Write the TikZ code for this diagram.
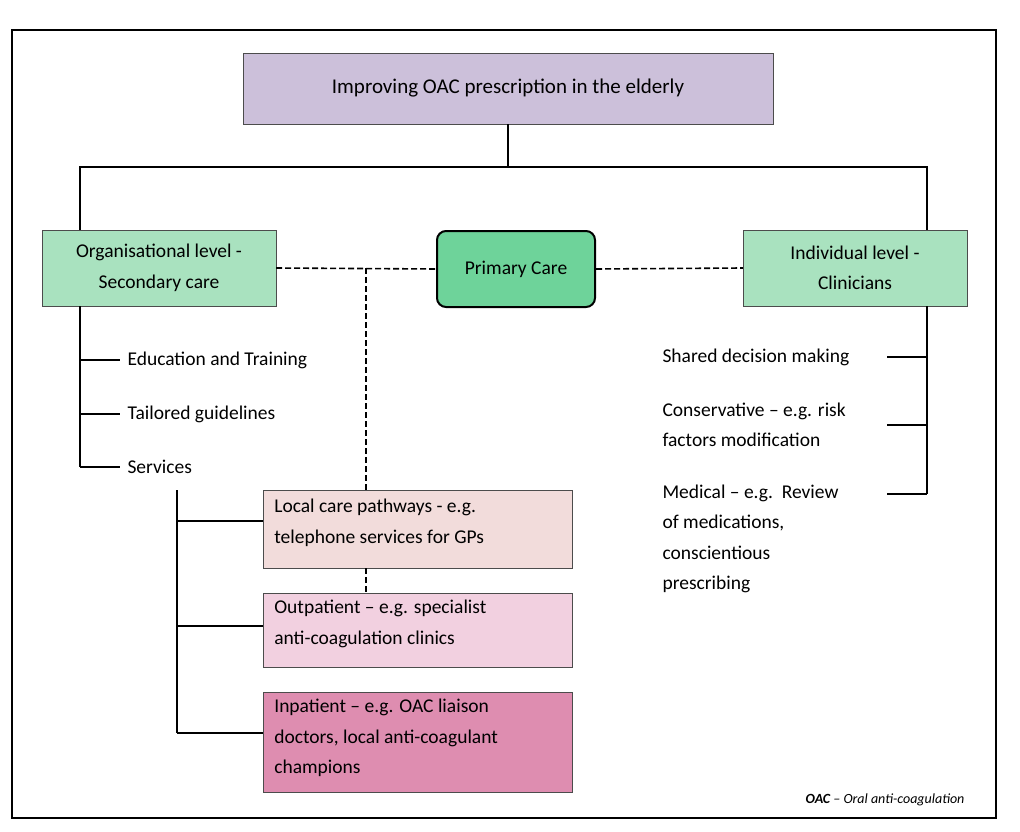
\documentclass[tikz,border=0pt]{standalone}
\usepackage{fontspec}
\setmainfont{Carlito}
\begin{document}
\begin{tikzpicture}[x=1pt,y=-1pt,
  box/.style={draw=black!70,thin,inner sep=0pt},
  ln/.style={line width=1.8pt},
  dl/.style={line width=1.6pt,dash pattern=on 6pt off 3pt},
  fs/.style={font=\fontsize{19.5}{30.5}\selectfont},
  lab/.style={fs,anchor=west,align=left},
  bt/.style={fs,align=left,anchor=north west}]
\useasboundingbox (0,0) rectangle (1020,832);
\draw[line width=1.8pt] (12,30) rectangle (996,818);
\node[box,fill={rgb,255:red,204;green,192;blue,218},minimum width=530,minimum height=71,font=\fontsize{21}{24}\selectfont] (t) at (508,88.5) {Improving OAC prescription in the elderly};
\node[box,fill={rgb,255:red,169;green,226;blue,191},minimum width=234,minimum height=76,align=center,fs] (l) at (159,268) {Organisational level -\\Secondary care};
\node[draw=black,line width=2pt,rounded corners=9pt,fill={rgb,255:red,110;green,211;blue,154},minimum width=158,minimum height=76,fs] (p) at (516,269) {Primary Care};
\node[box,fill={rgb,255:red,169;green,226;blue,191},minimum width=224,minimum height=76,align=center,fs] (r) at (855,268) {Individual level -\\Clinicians};
\coordinate (tb) at (508,167);
\coordinate (lt) at (80,230);
\coordinate (rt) at (927,230);
\draw[ln] (t.south) -- (tb);
\draw[ln] (lt) -- (80,167) -- (927,167) -- (rt);
\draw[dl] (l.east) -- (p.west);
\draw[dl] (p.east) -- (r.west);
\node[box,fill={rgb,255:red,242;green,220;blue,219},minimum width=309,minimum height=78] (b1) at (417.5,529) {};
\node[bt] at (b1.north west) [xshift=8pt,yshift=-6pt] {Local care pathways - e.g.\\telephone services for GPs};
\node[box,fill={rgb,255:red,242;green,208;blue,224},minimum width=309,minimum height=74] (b2) at (417.5,630) {};
\node[bt] at (b2.north west) [xshift=8pt,yshift=-4pt] {Outpatient -- e.g. specialist\\anti-coagulation clinics};
\node[box,fill={rgb,255:red,222;green,141;blue,176},minimum width=309,minimum height=100] (b3) at (417.5,742) {};
\node[bt] at (b3.north west) [xshift=8pt,yshift=-4pt] {Inpatient -- e.g. OAC liaison\\doctors, local anti-coagulant\\champions};
\coordinate (d) at (366,268);
\draw[dl] (d) -- (b1.north -| d);
\draw[dl] (b1.south -| d) -- (b2.north -| d);
% left
\draw[ln] (80,306) -- (80,467);
\foreach \y/\t in {360/Education and Training,414/Tailored guidelines,467/Services}{
  \draw[ln] (80,\y) -- (120,\y);
  \node[lab] at (124,\y) {\t};}
\draw[ln] (177,490) -- (177,733);
\draw[ln] (177,521) -- (b1.west |- 0,521);
\draw[ln] (177,626) -- (b2.west |- 0,626);
\draw[ln] (177,733) -- (b3.west |- 0,733);
% right
\draw[ln] (927,306) -- (927,494);
\foreach \y in {357,425,494}{\draw[ln] (887,\y) -- (927,\y);}
\node[lab] at (659,357) {Shared decision making};
\node[bt] at (659,399) {Conservative -- e.g. risk\\factors modification};
\node[bt] at (659,481) {Medical -- e.g.\ \ Review\\of medications,\\conscientious\\prescribing};
\node[anchor=east,font=\fontsize{14}{16}\selectfont\itshape] at (968,800) {\textbf{OAC} -- Oral anti-coagulation};
\end{tikzpicture}
\end{document}
